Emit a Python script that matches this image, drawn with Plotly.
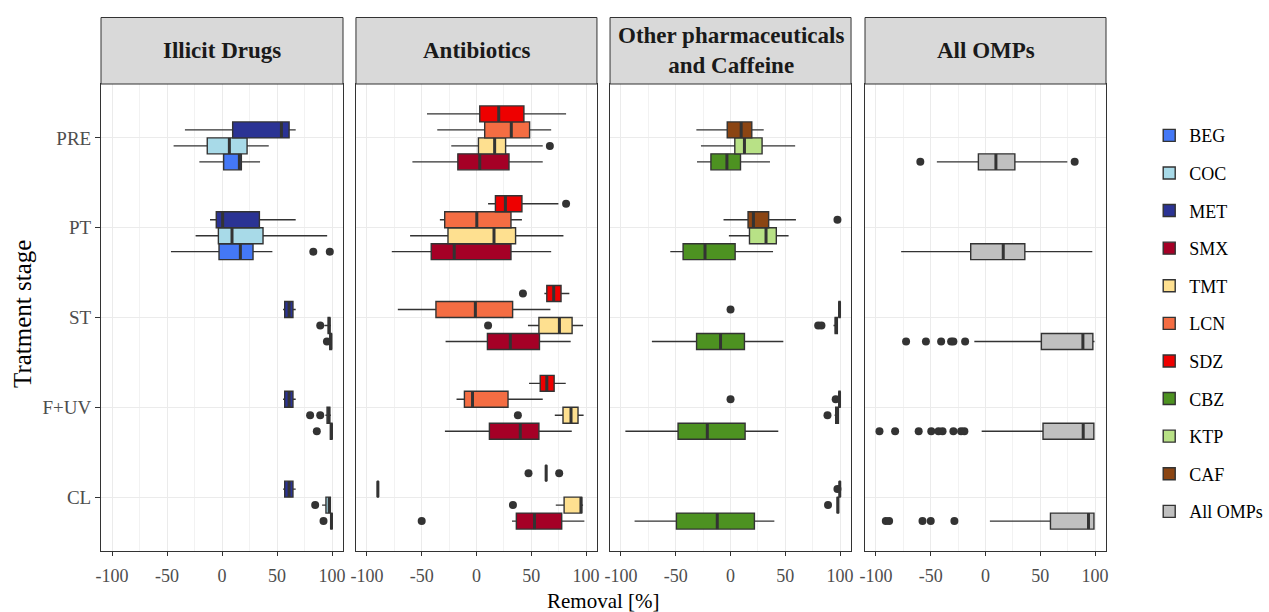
import plotly.graph_objects as go

stages = ["PRE", "PT", "ST", "F+UV", "CL"]

# per stage: (lower whisker, q1, median, q3, upper whisker)
BEG = [(-20.6, 1.5, 15.8, 17.6, 34.6), (-46.4, -2.7, 16.7, 28.2, 45.8), (97.5, 98, 99, 99.5, 100),
       (98, 98.5, 99.5, 100, 100), (98.5, 99, 99.5, 100, 100)]
BEG_out = [[], [83, 98], [95.4], [86.2], [92.3]]
COC = [(-44, -13.4, 6.7, 22.8, 42.5), (-24, -3.3, 9.1, 37.3, 95.6), (93, 96.5, 97.5, 98, 99),
       (94, 95.5, 97, 98, 99), (91, 94.5, 97.5, 98.5, 99)]
COC_out = [[], [], [89.3], [80.1, 89.3], [84.7]]
MET = [(-33.7, 9.7, 54, 61, 67), (-10.9, -5.2, 0.6, 34, 67), (55.5, 57, 61, 64.5, 67),
       (55.5, 57, 61, 64.5, 67), (55.5, 57, 61, 64.5, 67)]
MET_out = [[], [], [], [], []]

SMX = [(-58.5, -17, 3, 29.7, 60.5), (-77.3, -41.3, -20.3, 31.5, 68.2), (-28.2, 10, 30.9, 57.5, 86),
       (-28.8, 11.8, 40, 57, 87), (32.4, 36.4, 53, 77.8, 98.5)]
SMX_out = [[], [], [], [], [-50]]
TMT = [(-23, 1.8, 16.6, 26.6, 60.5), (-60.6, -26, 16, 35.7, 79.4), (47, 57, 75.7, 87.3, 97.3),
       (71.5, 79, 86.3, 92.7, 97.8), (72.4, 80, 95.4, 96, 97.3)]
TMT_out = [[67], [], [10.6], [37.8], [33.3]]
LCN = [(-35.8, 7.5, 31.8, 48.5, 68.2), (-33.4, -29, 0.3, 31.5, 41.5), (-71.8, -37, -1, 33, 67.5),
       (-18.2, -11, -3.6, 28.8, 60.5), (-90.5, -90.3, -90, -89.7, -89.5)]
LCN_out = [[], [], [], [], []]
SDZ = [(-45.2, 3, 20.3, 43.3, 81.8), (10.6, 17.3, 26.4, 41.5, 74.8), (62, 64.2, 70.5, 77.2, 84.8),
       (48, 58.2, 64.2, 70.9, 81.5), (63, 63.3, 63.6, 63.9, 64.2)]
SDZ_out = [[], [81.8], [42.4], [], [47.5, 75.5]]

CBZ = [(-30.6, -17.9, -3.3, 9.1, 36), (-55, -43.3, -23.3, 4.2, 38.8), (-71.8, -31, -9.1, 12.7, 48.2),
       (-96, -47.9, -21.2, 13.3, 43.6), (-87.6, -49.4, -12.1, 21.8, 40)]
CBZ_out = [[], [], [], [], []]
KTP = [(-27, 3.9, 12.7, 28.8, 59), (-1.5, 17.3, 32.4, 41.8, 53), (94, 95.5, 96.5, 97.5, 98),
       (95, 96, 97.5, 98.5, 99), (97, 97.5, 98, 98.5, 99)]
KTP_out = [[], [], [80, 83], [88.5], [89]]
CAF = [(-31.2, -3, 9.7, 19.4, 30.3), (-6.4, 16, 20.9, 34.8, 59.7), (98.5, 99, 99.5, 100, 100),
       (98, 99, 99.5, 100, 100), (99, 99.5, 99.7, 100, 100)]
CAF_out = [[], [97.6], [0], [0, 96], [97.6]]

ALL = [(-44.4, -6.5, 9.5, 26.8, 74.7), (-77, -13.5, 16.2, 35.9, 97.5), (-10.2, 51, 88.9, 98, 99.5),
       (-3.5, 52.5, 89.2, 98.9, 99.5), (4, 59.3, 94, 99, 99.5)]
ALL_out = [[-59.5, 81.4], [], [-72.5, -54.4, -40.5, -31.4, -29.3, -18.6],
           [-96.8, -82.5, -61, -49.5, -42.9, -39.2, -29.3, -22.3, -19.3],
           [-91, -88, -57.5, -50, -28.4]]

panel_titles = ["Illicit Drugs", "Antibiotics", "Other pharmaceuticals<br>and Caffeine", "All OMPs"]
panel_members = [["BEG", "COC", "MET"], ["SMX", "TMT", "LCN", "SDZ"], ["CBZ", "KTP", "CAF"], ["All OMPs"]]
compound_stats = {"BEG": BEG, "COC": COC, "MET": MET, "SMX": SMX, "TMT": TMT, "LCN": LCN, "SDZ": SDZ,
                  "CBZ": CBZ, "KTP": KTP, "CAF": CAF, "All OMPs": ALL}
compound_out = {"BEG": BEG_out, "COC": COC_out, "MET": MET_out, "SMX": SMX_out, "TMT": TMT_out,
                "LCN": LCN_out, "SDZ": SDZ_out, "CBZ": CBZ_out, "KTP": KTP_out, "CAF": CAF_out,
                "All OMPs": ALL_out}
colors = {"BEG": "#4478F6", "COC": "#A8DAE8", "MET": "#2B3394", "SMX": "#A50026", "TMT": "#FEE090",
          "LCN": "#F46D43", "SDZ": "#EE0000", "CBZ": "#4D9221", "KTP": "#B8E186", "CAF": "#8B4513",
          "All OMPs": "#C0C0C0"}
legend_order = ["BEG", "COC", "MET", "SMX", "TMT", "LCN", "SDZ", "CBZ", "KTP", "CAF", "All OMPs"]

FONT = "Liberation Serif"
DARK = "#333333"
BW = 0.178  # dodge slot width (4 slots)

domains = [[0, 0.2408], [0.2537, 0.4935], [0.5065, 0.7463], [0.7602, 1.0]]

fig = go.Figure()

def panel_of(c):
    for i, m in enumerate(panel_members):
        if c in m:
            return i, m.index(c)

for c in legend_order:
    p, slot = panel_of(c)
    xa = "x" if p == 0 else f"x{p+1}"
    ya = "y" if p == 0 else f"y{p+1}"
    st = compound_stats[c]
    pos = [i + (1.5 - slot) * BW for i in range(len(stages))]
    fig.add_trace(go.Box(
        y=pos, orientation="h",
        lowerfence=[s[0] for s in st], q1=[s[1] for s in st], median=[s[2] for s in st],
        q3=[s[3] for s in st], upperfence=[s[4] for s in st],
        width=BW, whiskerwidth=0, boxpoints=False,
        fillcolor=colors[c], line=dict(color=DARK, width=1.4),
        name=c, legendgroup=c, showlegend=True, xaxis=xa, yaxis=ya, hoverinfo="skip"))
    # thick median line (ggplot style)
    mx, my = [], []
    for s, yp in zip(st, pos):
        mx += [s[2], s[2], None]
        my += [yp - BW / 2, yp + BW / 2, None]
    fig.add_trace(go.Scatter(x=mx, y=my, mode="lines", line=dict(color=DARK, width=3),
                             showlegend=False, xaxis=xa, yaxis=ya, hoverinfo="skip"))
    ox, oy = [], []
    for vals, yp in zip(compound_out[c], pos):
        ox += vals
        oy += [yp] * len(vals)
    if ox:
        fig.add_trace(go.Scatter(x=ox, y=oy, mode="markers", marker=dict(color=DARK, size=8),
                                 showlegend=False, xaxis=xa, yaxis=ya, hoverinfo="skip"))

layout = dict(
    width=1269, height=612,
    margin=dict(l=101, r=163, t=84, b=61, autoexpand=False),
    paper_bgcolor="white", plot_bgcolor="white",
    font=dict(family=FONT, color="black"),
    showlegend=True,
    legend=dict(x=1.043, y=0.929, xanchor="left", yanchor="top", tracegroupgap=11.2,
                font=dict(family=FONT, size=18, color="black"), bgcolor="rgba(0,0,0,0)"),
)
for p in range(4):
    xk = "xaxis" if p == 0 else f"xaxis{p+1}"
    yk = "yaxis" if p == 0 else f"yaxis{p+1}"
    layout[xk] = dict(domain=domains[p], range=[-110, 110], anchor="y" if p == 0 else f"y{p+1}",
                      tickvals=[-100, -50, 0, 50, 100], ticktext=["-100", "-50", "0", "50", "100"],
                      ticks="outside", ticklen=4, tickcolor=DARK, tickwidth=1, ticklabelstandoff=4,
                      tickfont=dict(family=FONT, size=18, color="#4D4D4D"),
                      showgrid=True, gridcolor="#EBEBEB", gridwidth=1.1,
                      minor=dict(tickvals=[-75, -25, 25, 75], showgrid=True, gridcolor="#F2F2F2", gridwidth=0.6),
                      showline=True, mirror=True, linecolor=DARK, linewidth=1, zeroline=False)
    layout[yk] = dict(domain=[0, 1], range=[4.6, -0.6], anchor="x" if p == 0 else f"x{p+1}",
                      tickvals=list(range(len(stages))), ticktext=stages,
                      ticks="outside" if p == 0 else "", ticklen=5, tickcolor=DARK,
                      showticklabels=(p == 0),
                      tickfont=dict(family=FONT, size=19, color="#4D4D4D"),
                      showgrid=True, gridcolor="#EBEBEB", gridwidth=1.1,
                      showline=True, mirror=True, linecolor=DARK, linewidth=1, zeroline=False)
    if p > 0:
        layout[yk]["matches"] = "y"
fig.update_layout(**layout)

strip_top = 1 + 66.5 / 467
for p in range(4):
    xr = "x domain" if p == 0 else f"x{p+1} domain"
    fig.add_shape(type="rect", xref=xr, yref="paper", x0=0, x1=1, y0=1.0, y1=strip_top,
                  fillcolor="#D9D9D9", line=dict(color=DARK, width=1), layer="above")
    fig.add_annotation(xref=xr, yref="paper", x=0.5, y=1 + 33.5 / 467, text="<b>" + panel_titles[p] + "</b>",
                       showarrow=False, xanchor="center", yanchor="middle",
                       font=dict(family=FONT, size=23, color="#1A1A1A"))

fig.add_annotation(xref="paper", yref="paper", x=0.5, y=-50 / 467, text="Removal [%]", showarrow=False,
                   xanchor="center", yanchor="middle", font=dict(family=FONT, size=21, color="black"))
fig.add_annotation(xref="paper", yref="paper", x=-79 / 1005, y=1 - (314 - 84) / 467, text="Tratment stage",
                   showarrow=False, textangle=-90, xanchor="center", yanchor="middle",
                   font=dict(family=FONT, size=25, color="black"))

fig.write_html("out.html")
